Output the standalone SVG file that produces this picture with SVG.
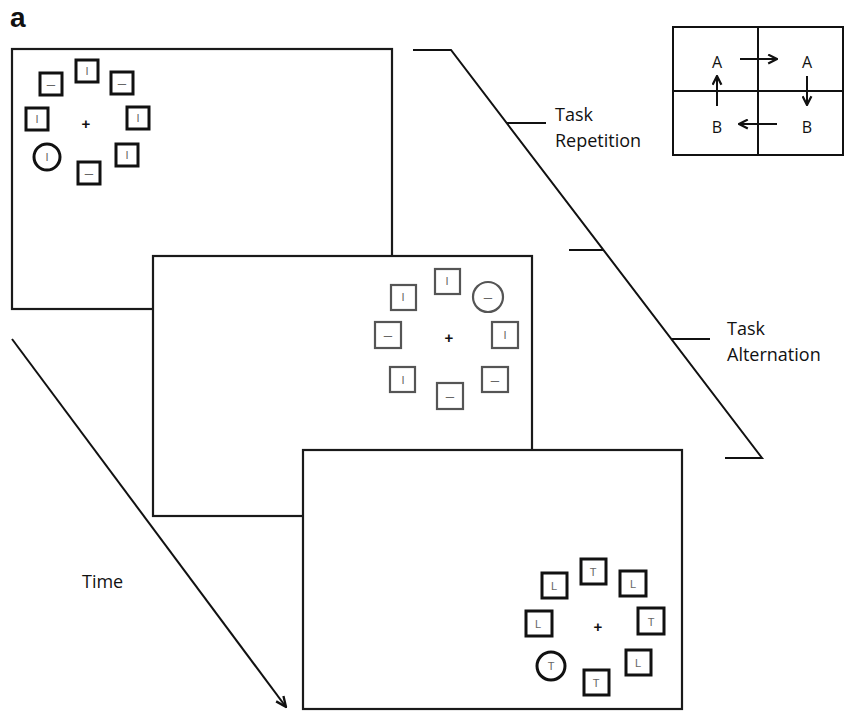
<svg xmlns="http://www.w3.org/2000/svg" width="853" height="711" viewBox="0 0 853 711">
<defs>
<style>
.panel{fill:#fff;stroke:#1a1a1a;stroke-width:2.2}
.sq{fill:#fff;stroke:#111;stroke-width:3}
.sqg{fill:#fff;stroke:#555;stroke-width:2.2}
.g{font-family:"Liberation Sans",Arial,sans-serif;font-size:11px;fill:#666;text-anchor:middle}
.gd{font-family:"Liberation Sans",Arial,sans-serif;font-size:15px;fill:#666;text-anchor:middle}
.cross{font-family:"Liberation Sans",Arial,sans-serif;font-size:15px;font-weight:bold;fill:#111;text-anchor:middle}
.lbl{font-family:"Open Sans","Noto Sans",sans-serif;font-size:18px;fill:#111}
.ln{stroke:#111;stroke-width:2;fill:none}
.grid{stroke:#111;stroke-width:2;fill:none}
.ab{font-family:"Open Sans","Noto Sans",sans-serif;font-size:16px;fill:#111;text-anchor:middle}
</style>
<marker id="ah" viewBox="0 0 10 10" refX="9" refY="5" markerWidth="5.5" markerHeight="5.5" orient="auto" markerUnits="strokeWidth">
<path d="M1,1 L9,5 L1,9" fill="none" stroke="#111" stroke-width="2"/>
</marker>
<marker id="ahT" viewBox="0 0 10 10" refX="9" refY="5" markerWidth="6.5" markerHeight="6.5" orient="auto" markerUnits="strokeWidth">
<path d="M1,1.5 L9,5 L1,8.5" fill="none" stroke="#111" stroke-width="1.8"/>
</marker>
</defs>
<rect width="853" height="711" fill="#fff"/>
<text x="10" y="27" font-family="Liberation Sans,Arial,sans-serif" font-size="28" font-weight="bold" fill="#111">a</text>

<g id="connectors">
<polyline class="ln" points="413,50 451,50 762,458 725,458"/>
<line class="ln" x1="507" y1="123" x2="546" y2="123"/>
<line class="ln" x1="569" y1="250" x2="604" y2="250"/>
<line class="ln" x1="671" y1="339" x2="710" y2="339"/>
<line class="ln" x1="12" y1="339" x2="286" y2="707" marker-end="url(#ahT)"/>
</g>

<g id="labels">
<text class="lbl" x="555" y="121">Task</text>
<text class="lbl" x="555" y="147">Repetition</text>
<text class="lbl" x="727" y="335">Task</text>
<text class="lbl" x="727" y="361">Alternation</text>
<text class="lbl" x="82" y="588">Time</text>
</g>

<g id="panel1">
<rect class="panel" x="12" y="49" width="380" height="260"/>
<rect class="sq" x="76" y="60" width="22" height="22"/><text class="g" x="87" y="75">I</text>
<rect class="sq" x="40" y="73" width="22" height="22"/><text class="gd" x="51" y="89">–</text>
<rect class="sq" x="111" y="72" width="22" height="22"/><text class="gd" x="122" y="88">–</text>
<rect class="sq" x="26" y="108" width="22" height="22"/><text class="g" x="37" y="123">I</text>
<rect class="sq" x="127" y="107" width="22" height="22"/><text class="g" x="138" y="122">I</text>
<rect class="sq" x="116" y="144" width="22" height="22"/><text class="g" x="127" y="159">I</text>
<circle class="sq" cx="47" cy="157" r="13"/><text class="g" x="47" y="161">I</text>
<rect class="sq" x="78" y="162" width="22" height="22"/><text class="gd" x="89" y="178">–</text>
<text class="cross" x="86" y="129">+</text>
</g>

<g id="panel2">
<rect class="panel" x="153" y="256" width="379" height="260"/>
<rect class="sqg" x="435" y="269" width="25" height="25"/><text class="g" x="447" y="285">I</text>
<rect class="sqg" x="391" y="285" width="25" height="25"/><text class="g" x="403" y="301">I</text>
<circle class="sqg" cx="488" cy="297" r="15"/><text class="gd" x="488" y="302">–</text>
<rect class="sqg" x="375" y="322" width="26" height="26"/><text class="gd" x="388" y="340">–</text>
<rect class="sqg" x="492" y="322" width="26" height="26"/><text class="g" x="505" y="339">I</text>
<rect class="sqg" x="390" y="367" width="25" height="25"/><text class="g" x="403" y="384">I</text>
<rect class="sqg" x="482" y="367" width="26" height="25"/><text class="gd" x="495" y="385">–</text>
<rect class="sqg" x="437" y="383" width="26" height="26"/><text class="gd" x="450" y="401">–</text>
<text class="cross" x="449" y="343">+</text>
</g>

<g id="panel3">
<rect class="panel" x="303" y="450" width="379" height="259"/>
<rect class="sq" x="581" y="559" width="25" height="25"/><text class="g" x="593" y="576">T</text>
<rect class="sq" x="542" y="573" width="25" height="25"/><text class="g" x="554" y="590">L</text>
<rect class="sq" x="620" y="571" width="26" height="25"/><text class="g" x="633" y="588">L</text>
<rect class="sq" x="526" y="611" width="26" height="25"/><text class="g" x="538" y="628">L</text>
<rect class="sq" x="638" y="608" width="26" height="26"/><text class="g" x="651" y="626">T</text>
<circle class="sq" cx="551" cy="666" r="14"/><text class="g" x="551" y="670">T</text>
<rect class="sq" x="626" y="650" width="25" height="25"/><text class="g" x="638" y="667">L</text>
<rect class="sq" x="584" y="670" width="25" height="25"/><text class="g" x="596" y="687">T</text>
<text class="cross" x="598" y="632">+</text>
</g>

<g id="legend">
<rect class="grid" x="673" y="27" width="170" height="128"/>
<line class="grid" x1="758" y1="27" x2="758" y2="155"/>
<line class="grid" x1="673" y1="91" x2="843" y2="91"/>
<text class="ab" x="717" y="68">A</text>
<text class="ab" x="807" y="68">A</text>
<text class="ab" x="717" y="133">B</text>
<text class="ab" x="807" y="133">B</text>
<line class="ln" x1="740" y1="59" x2="777" y2="59" marker-end="url(#ah)"/>
<line class="ln" x1="807" y1="76" x2="807" y2="105" marker-end="url(#ah)"/>
<line class="ln" x1="777" y1="124" x2="739" y2="124" marker-end="url(#ah)"/>
<line class="ln" x1="717" y1="106" x2="717" y2="76" marker-end="url(#ah)"/>
</g>
</svg>
